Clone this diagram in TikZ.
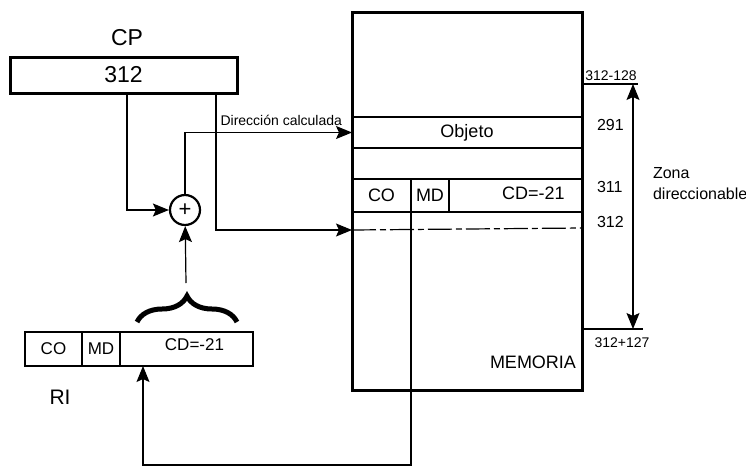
\documentclass[tikz,border=0pt]{standalone}
\usepackage{fontspec}
\setmainfont{Liberation Sans}
\usetikzlibrary{arrows.meta,decorations.pathreplacing}

\begin{document}
\begin{tikzpicture}[
  x=0.5pt, y=-0.5pt,
  >={Stealth[length=8pt,width=6.5pt,inset=1.5pt]},
  big/.style={font=\fontsize{11.5}{13}\selectfont},
  mid/.style={font=\fontsize{9}{10}\selectfont},
  small/.style={font=\fontsize{8}{9.5}\selectfont},
  tiny/.style={font=\fontsize{7}{8}\selectfont},
  regbox/.style={draw, line width=1.5pt, inner sep=0pt, outer sep=0pt, big},
  cell/.style={draw, line width=1.3pt, inner sep=0pt, outer sep=0pt, minimum height=16.5pt, mid},
  ricell/.style={draw, line width=1.2pt, inner sep=0pt, outer sep=0pt, minimum height=17pt,
                 font=\fontsize{8.5}{10}\selectfont},
  link/.style={->, line width=0.6pt},
  plain/.style={line width=0.6pt}
]
  \useasboundingbox (0,0) rectangle (746,472);

  % registro CP
  \node[big] (cplabel) at (127,38) {CP};
  \node[regbox, minimum width=113.5pt, minimum height=18pt] (cp) at (123.5,75) {312};
  \coordinate (tapA) at (127,93);
  \coordinate (tapB) at (216,93);

  % sumador
  \node[draw, circle, line width=1.1pt, minimum size=15pt, inner sep=0pt,
        font=\fontsize{11}{12}\selectfont] (sum) at (185,210) {+};

  % memoria
  \node[draw, line width=1.5pt, inner sep=0pt, outer sep=0pt,
        minimum width=115pt, minimum height=189pt] (mem) at (467,201) {};
  \node[cell, minimum width=115pt, minimum height=15.5pt] (obj) at (467,132.5) {Objeto};
  \node[cell, minimum width=29.5pt] (mco) at (381.5,195.5) {CO};
  \node[cell, minimum width=19pt] (mmd) at (430,195.5) {MD};
  \node[cell, minimum width=66.5pt, label={[mid, xshift=9pt, yshift=1pt]center:CD=-21}] (mcd) at (515.5,195.5) {};
  \node[mid] (memlabel) at (533,362) {MEMORIA};

  % direcciones
  \node[small, anchor=west] (d291) at (590,125) {291};
  \node[small, anchor=west] (d311) at (590,187) {311};
  \node[small, anchor=west] (d312) at (590,222) {312};
  \coordinate (t128) at (638,84);
  \coordinate (b127) at (643,329);
  \node[tiny, anchor=base] (l128) at (611,80) {312-128};
  \node[tiny, anchor=north] (l127) at (622,331) {312+127};
  \draw[plain] (mem.east |- t128) -- (t128);
  \draw[plain] (mem.east |- b127) -- (b127);
  \coordinate (ztop) at (633,84);
  \coordinate (zbot) at (633,329);
  \draw[<->, line width=0.6pt] (ztop) -- (zbot);
  \node[small, anchor=west, align=left] (zona) at (646,184) {Zona\\[1pt]direccionable};

  % registro RI
  \node[ricell, minimum width=28.5pt] (rico) at (53.5,349) {CO};
  \node[ricell, minimum width=19pt] (rimd) at (101,349) {MD};
  \node[ricell, minimum width=66.5pt, label={[font=\fontsize{8.5}{10}\selectfont, xshift=4pt, yshift=2pt]center:CD=-21}] (ricd) at (186.5,349) {};
  \node[font=\fontsize{10.5}{12}\selectfont] (rilabel) at (60,397) {RI};
  \coordinate (rin) at (143,366);
  \coordinate (low) at (0,465);

  % llave sobre el desplazamiento
  \draw[line width=2.5pt, decorate, decoration={brace, amplitude=13pt}] (137,322) -- (237,322);
  \coordinate (btip) at (186,283);

  % conexiones
  \draw[link] (tapA) |- (sum);
  \draw[link] (btip) -- (sum);
  \draw[link] (sum) |- (obj.west);
  \node[tiny, anchor=east] (dirlabel) at (349,120) {Dirección calculada};
  \coordinate (a312) at (352,230);
  \coordinate (r312) at (582,228);
  \draw[link] (tapB) |- (a312);
  \draw[plain, dash pattern=on 12pt off 2pt on 3pt off 2pt] (a312) -- (r312);
  \draw[link] (mco.south east) |- (rin |- low) -- (rin);
\end{tikzpicture}
\end{document}
